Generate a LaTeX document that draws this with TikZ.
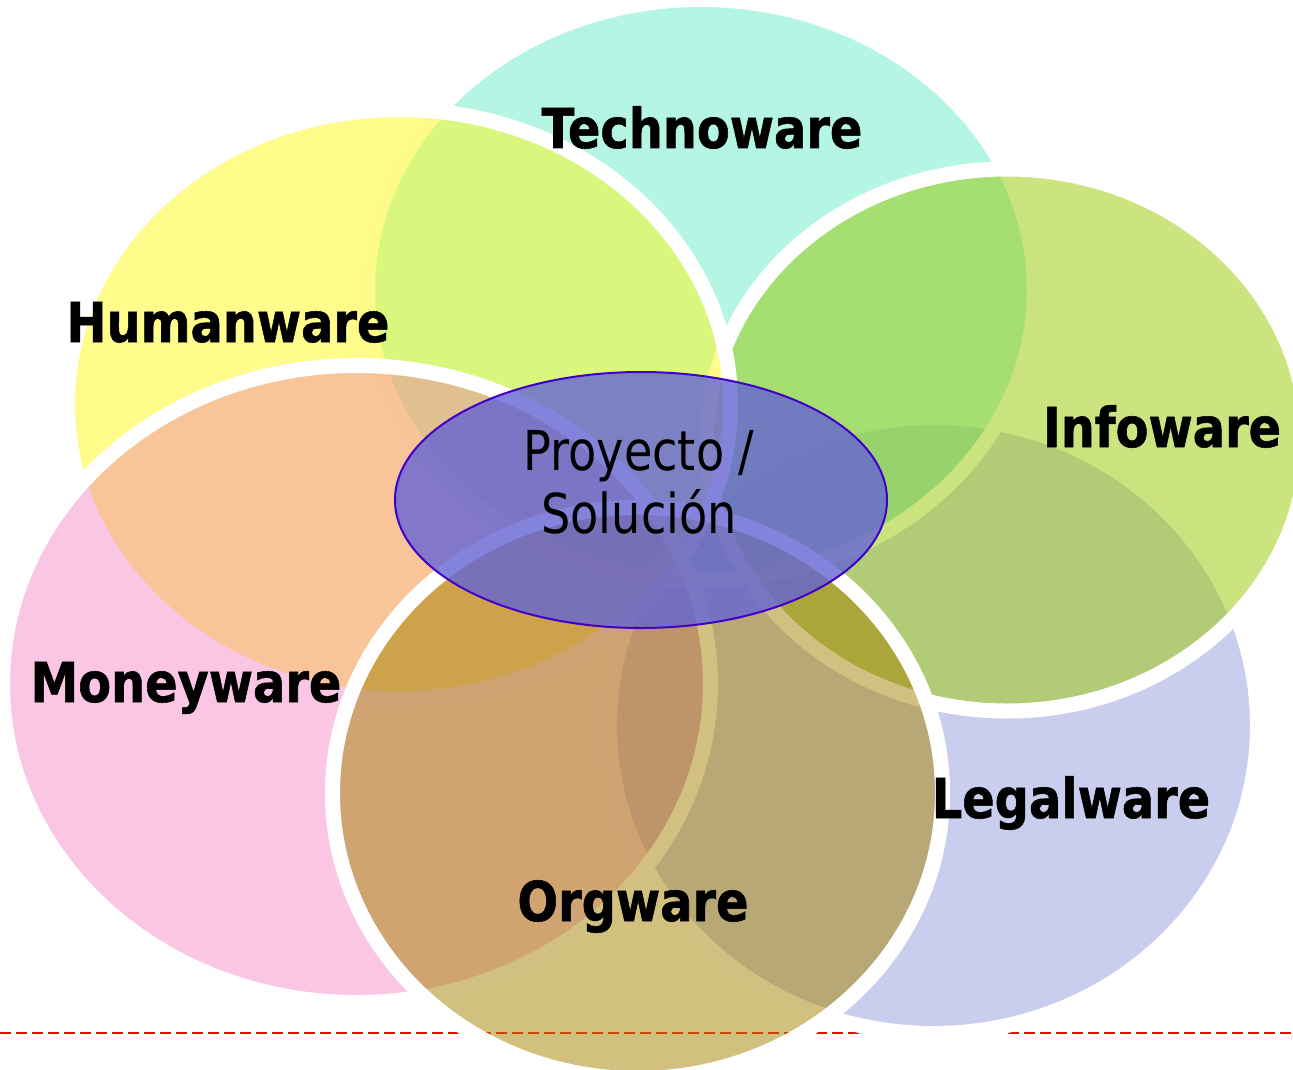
\documentclass[tikz,border=0pt]{standalone}
\usepackage{fontspec}
\newfontfamily\lblfont{DejaVu Sans}[FakeStretch=0.87,FakeBold=1]
\newfontfamily\ctrfont{DejaVu Sans}[FakeStretch=0.84]
\usetikzlibrary{shapes.geometric}
\definecolor{technoC}{RGB}{105,235,201}
\definecolor{humanC}{RGB}{255,249,25}
\definecolor{infoC}{RGB}{153,201,0}
\definecolor{legalC}{RGB}{149,157,221}
\definecolor{moneyC}{RGB}{240,92,178}
\definecolor{orgC}{RGB}{165,130,0}
\definecolor{ctrC}{RGB}{100,100,212}
\definecolor{ctrLine}{RGB}{64,0,200}
\begin{document}
\begin{tikzpicture}[x=1pt,y=-1pt,
  venn/.style={ellipse, fill opacity=0.5, draw=white, draw opacity=1, line width=15pt, inner sep=0pt, outer sep=0pt},
  lbl/.style={font=\lblfont\bfseries\fontsize{55}{66}\selectfont, text=black, inner sep=0pt, anchor=base},
  ctrtxt/.style={font=\ctrfont\fontsize{55}{63}\selectfont, text=black, inner sep=0pt, align=center}
  ]
\useasboundingbox (0,0) rectangle (1293,1070);
\coordinate (dl) at (0,1033);
\coordinate (dr) at (1293,1033);
\draw[red, line width=2pt, dash pattern=on 11pt off 5pt] (dl) -- (dr);
\node[venn, fill=legalC, minimum width=648pt, minimum height=616pt] (legal) at (933.5,725.5) {};
\node[venn, fill=technoC, minimum width=667pt, minimum height=581pt] (techno) at (701,290) {};
\node[venn, fill=infoC, minimum width=600pt, minimum height=542pt] (info) at (1007,440) {};
\node[venn, fill=humanC, minimum width=663pt, minimum height=589pt] (human) at (399,404) {};
\node[venn, fill=moneyC, fill opacity=0.35, minimum width=708pt, minimum height=637pt] (money) at (356.5,684) {};
\node[venn, fill=orgC, minimum width=610pt, minimum height=571pt] (org) at (637.5,793) {};
\node[ellipse, fill=ctrC, fill opacity=0.8, draw=ctrLine, draw opacity=1, line width=2pt, inner sep=0pt, minimum width=492pt, minimum height=256pt] (ctr) at (641,500) {};
\node[ctrtxt] (ctrlabel) at (639,482.6) {Proyecto /\\Solución};
\node[lbl] (lt) at (702,148) {Technoware};
\node[lbl] (lh) at (228,342) {Humanware};
\node[lbl] (li) at (1162,447) {Infoware};
\node[lbl] (lm) at (186,702) {Moneyware};
\node[lbl] (ll) at (1071,818) {Legalware};
\node[lbl] (lo) at (633,921) {Orgware};
\end{tikzpicture}
\end{document}
